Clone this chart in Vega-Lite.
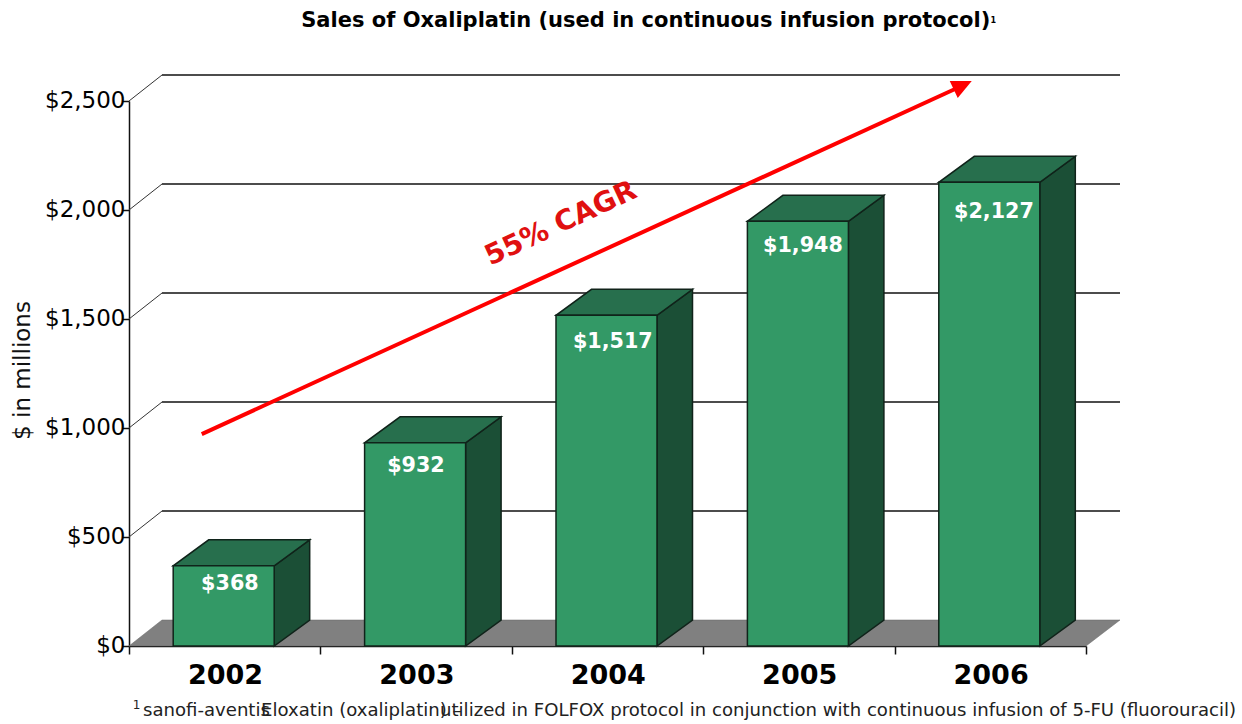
{
 "$schema":"https://vega.github.io/schema/vega-lite/v6.json",
 "width":957,"height":545,"autosize":"none",
 "padding":{"left":129,"top":101,"right":156,"bottom":78},
 "background":"white",
 "config":{"view":{"stroke":null},"font":"DejaVu Sans"},
 "datasets":{
  "bars":[{"year":2002,"sales":368},{"year":2003,"sales":932},{"year":2004,"sales":1517},{"year":2005,"sales":1948},{"year":2006,"sales":2127}],
  "barLabels":[{"year":2002.027,"sales":284,"amount":368},{"year":2002.999,"sales":826,"amount":932},{"year":2004.028,"sales":1394,"amount":1517},{"year":2005.021,"sales":1835,"amount":1948},{"year":2006.019,"sales":1991,"amount":2127}],
  "floor":[{"year":2001.5,"sales":0}],
  "grid":[{"year":2001.5,"end":2006.5,"sales":500},{"year":2001.5,"end":2006.5,"sales":1000},{"year":2001.5,"end":2006.5,"sales":1500},{"year":2001.5,"end":2006.5,"sales":2000},{"year":2001.5,"end":2006.5,"sales":2500}],
  "trend":[{"year":2001.88,"sales":972},{"year":2005.816,"sales":2555}],
  "trendHead":[{"year":2005.903,"sales":2592}],
  "trendLabel":[{"year":2003.757,"sales":1936,"note":"55% CAGR"}],
  "heading":[{"year":2004.2,"sales":2867,"note":"Sales of Oxaliplatin (used in continuous infusion protocol)"}],
  "notes":[{"year":2001.573,"sales":-297,"note":"sanofi-aventis"},{"year":2002.19,"sales":-297,"note":"Eloxatin (oxaliplatin) –"},{"year":2003.125,"sales":-297,"note":"utilized in FOLFOX protocol in conjunction with continuous infusion of 5-FU (fluorouracil)"}],
  "supers":[{"year":2001.52,"sales":-272,"note":"1"}],
  "titleSuper":[{"year":2006.015,"sales":2867,"note":"1"}]
 },
 "data":{"name":"bars"},
 "encoding":{
  "x":{"field":"year","type":"quantitative","scale":{"domain":[2001.5,2006.5],"nice":false,"zero":false,"padding":0},
   "axis":{"title":null,"values":[2001.5,2002.5,2003.5,2004.5,2005.5,2006.5],"grid":false,"domainColor":"#111","domainWidth":1.5,"tickColor":"#111","tickWidth":1.5,"tickSize":8,
    "labelExpr":"datum.value > 2006 ? '' : format(datum.value + 0.5, 'd')","labelOffset":96,"labelFont":"DejaVu Sans","labelFontSize":27,"labelFontWeight":"bold","labelColor":"black","labelPadding":8,"labelFlush":false,"labelOverlap":false,"labelBound":false}},
  "y":{"field":"sales","type":"quantitative","scale":{"domain":[0,2500],"nice":false,"zero":false},
   "axis":{"title":"$ in millions","values":[0,500,1000,1500,2000,2500],"format":"$,d","grid":false,"domainColor":"#111","domainWidth":1.5,"tickColor":"#111","tickWidth":1.5,"tickSize":7,
    "labelFont":"DejaVu Sans","labelFontSize":23,"labelColor":"black","labelPadding":-3,"labelOffset":-1,"labelFlush":false,"labelOverlap":false,"labelBound":false,
    "titleFont":"DejaVu Sans","titleFontSize":23,"titleFontWeight":"normal","titleColor":"#111","titleX":-95,"titleY":269}}
 },
 "layer":[
  {"data":{"name":"floor"},
   "mark":{"type":"point","filled":true,"opacity":1,"fill":"#808080","stroke":"#666","strokeWidth":0.5,"size":4,"shape":"M0 0 L957 0 L991 -26 L33 -26 Z"}},
  {"data":{"name":"grid"},
   "mark":{"type":"point","filled":false,"opacity":1,"stroke":"#333","strokeWidth":1,"size":4,"shape":"M0 0 L33 -26"}},
  {"data":{"name":"grid"},
   "mark":{"type":"rule","stroke":"#111","strokeWidth":1.5,"yOffset":-26,"y2Offset":-26,"xOffset":33,"x2Offset":34},
   "encoding":{"x2":{"field":"end"}}},
  {"transform":[{"fold":["year","sales"],"as":["edge","unused"]},
    {"calculate":"datum.year + (datum.edge === 'year' ? 0.2586 : 0.4441)","as":"xpos"},
    {"calculate":"datum.sales + (datum.edge === 'year' ? 0 : 119)","as":"top"},
    {"calculate":"datum.edge === 'year' ? 0 : 119","as":"bottom"}],
   "mark":{"type":"area","fill":"#1b4f36","stroke":"#10231a","strokeWidth":1.5,"opacity":1,"line":false},
   "encoding":{"x":{"field":"xpos","type":"quantitative"},"y":{"field":"top","type":"quantitative"},"y2":{"field":"bottom"},"detail":{"field":"year"}}},
  {"mark":{"type":"point","filled":true,"opacity":1,"fill":"#276f4d","stroke":"#10231a","strokeWidth":1.5,"size":4,"shape":"M-51.5 0 L49.5 0 L85 -26 L-16 -26 Z"}},
  {"mark":{"type":"bar","width":101,"xOffset":-1,"fill":"#339966","stroke":"#10231a","strokeWidth":1.5,"opacity":1},
   "encoding":{"y2":{"datum":0}}},
  {"data":{"name":"barLabels"},"mark":{"type":"text","font":"DejaVu Sans","fontSize":20.7,"fontWeight":"bold","fill":"white","align":"center","baseline":"middle"},
   "encoding":{"text":{"field":"amount","type":"quantitative","format":"$,d"}}},
  {"data":{"name":"trend"},"mark":{"type":"line","stroke":"#ff0000","strokeWidth":4}},
  {"data":{"name":"trendHead"},"mark":{"type":"point","filled":true,"opacity":1,"fill":"#ff0000","size":4,"shape":"M0 0 L-22 0 L-14 17 Z"}},
  {"data":{"name":"trendLabel"},"mark":{"type":"text","font":"DejaVu Sans","fontSize":28,"fontWeight":"bold","fill":"#e01010","angle":-25,"align":"center","baseline":"middle"},"encoding":{"text":{"field":"note"}}},
  {"data":{"name":"heading"},"mark":{"type":"text","font":"DejaVu Sans","fontSize":21,"fontWeight":"bold","fill":"black","align":"center","baseline":"middle"},"encoding":{"text":{"field":"note"}}},
  {"data":{"name":"notes"},"mark":{"type":"text","font":"DejaVu Sans","fontSize":18.1,"fill":"#222","align":"left","baseline":"middle"},"encoding":{"text":{"field":"note"}}},
  {"data":{"name":"supers"},"mark":{"type":"text","font":"DejaVu Sans","fontSize":12,"fill":"#222","align":"left","baseline":"middle"},"encoding":{"text":{"field":"note"}}},
  {"data":{"name":"titleSuper"},"mark":{"type":"text","font":"DejaVu Sans","fontSize":8,"fontWeight":"bold","fill":"black","align":"center","baseline":"middle"},"encoding":{"text":{"field":"note"}}}
 ]
}
